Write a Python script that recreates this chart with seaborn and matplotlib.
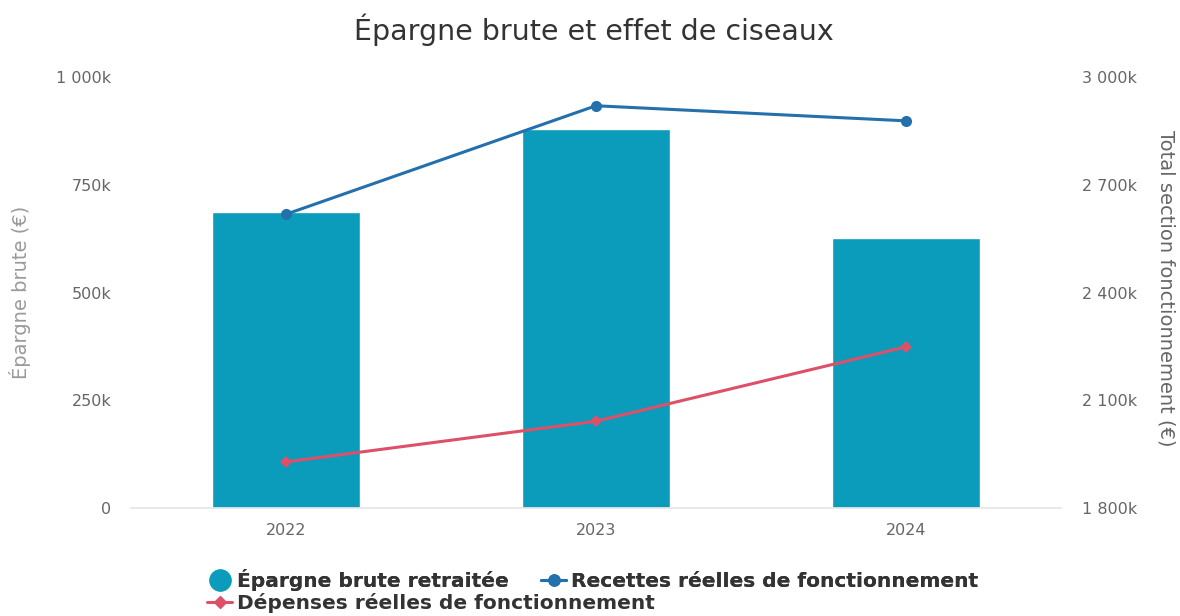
import seaborn as sns
import matplotlib.pyplot as plt
from matplotlib.lines import Line2D
from matplotlib.ticker import FuncFormatter
import pandas as pd

years = ["2022", "2023", "2024"]
epargne = [687000, 879000, 626000]
recettes = [2618000, 2920000, 2878000]
depenses = [1929000, 2042000, 2249000]

BAR_COLOR = "#0b9cbb"
BLUE = "#2470ad"
RED = "#dd5068"


def fr_k(v, pos=None):
    if v == 0:
        return "0"
    k = int(round(v / 1000))
    return "{:,}k".format(k).replace(",", " ")


def main():
    sns.set_theme(style="white")
    plt.rcParams["font.family"] = ["DejaVu Sans"]

    df = pd.DataFrame({"year": years, "pos": range(len(years)),
                       "epargne": epargne, "recettes": recettes,
                       "depenses": depenses})

    fig = plt.figure(figsize=(11.8, 6.16), dpi=100)
    ax = fig.add_axes([0.111, 0.175, 0.788, 0.70])
    sns.barplot(data=df, x="pos", y="epargne", color=BAR_COLOR,
                saturation=1, width=0.477, ax=ax)
    ax.set_xlim(-0.5, 2.5)
    ax.set_ylim(0, 1000000)
    ax.set_yticks([0, 250000, 500000, 750000, 1000000])
    ax.yaxis.set_major_formatter(FuncFormatter(fr_k))
    ax.set_xticks(range(len(years)))
    ax.set_xticklabels(years)
    ax.set_xlabel("")
    ax.set_ylabel("Épargne brute (€)", color="#9a9a9a", fontsize=14, va="center")
    ax.yaxis.set_label_coords(-0.119, 0.5)
    ax.tick_params(axis="both", length=0, labelsize=11.5, labelcolor="#666666")
    ax.tick_params(axis="y", pad=14)
    ax.tick_params(axis="x", pad=11)
    for s in ["top", "right", "left"]:
        ax.spines[s].set_visible(False)
    ax.spines["bottom"].set_color("#e6e6e6")

    ax2 = ax.twinx()
    sns.lineplot(data=df, x="pos", y="recettes", color=BLUE, marker="o",
                 markersize=8, linewidth=2.2, markeredgewidth=0, ax=ax2)
    sns.lineplot(data=df, x="pos", y="depenses", color=RED, marker="D",
                 markersize=6, linewidth=2.2, markeredgewidth=0, ax=ax2)
    ax2.set_ylim(1800000, 3000000)
    ax2.set_yticks([1800000, 2100000, 2400000, 2700000, 3000000])
    ax2.yaxis.set_major_formatter(FuncFormatter(fr_k))
    ax2.set_ylabel("Total section fonctionnement (€)", color="#666666",
                   fontsize=14, rotation=270, va="center")
    ax2.yaxis.set_label_coords(1.113, 0.51)
    ax2.tick_params(axis="y", length=0, labelsize=11.5, labelcolor="#666666", pad=15)
    for s in ax2.spines.values():
        s.set_visible(False)
    ax.set_xlim(-0.5, 2.5)

    fig.suptitle("Épargne brute et effet de ciseaux", x=0.503, y=0.978,
                 fontsize=20.5, color="#333333")

    circle = Line2D([], [], marker="o", linestyle="none", color=BAR_COLOR, markersize=15)
    blue_h = Line2D([], [], marker="o", color=BLUE, linewidth=2.2, markersize=8)
    red_h = Line2D([], [], marker="D", color=RED, linewidth=2.2, markersize=6)
    opts = dict(loc="upper left", frameon=False, borderpad=0, borderaxespad=0,
                prop={"size": 14.5, "weight": "bold"}, handlelength=1.25,
                handletextpad=0.25, labelcolor="#333333")

    leg1 = fig.legend([circle, blue_h],
                      ["Épargne brute retraitée", "Recettes réelles de fonctionnement"],
                      ncol=2, columnspacing=1.6,
                      bbox_to_anchor=(0.1754, 0.076), **opts)
    fig.add_artist(leg1)
    fig.legend([red_h], ["Dépenses réelles de fonctionnement"],
               bbox_to_anchor=(0.1754, 0.037), **opts)

    fig.savefig("out.png", dpi=100)


if __name__ == "__main__":
    main()
